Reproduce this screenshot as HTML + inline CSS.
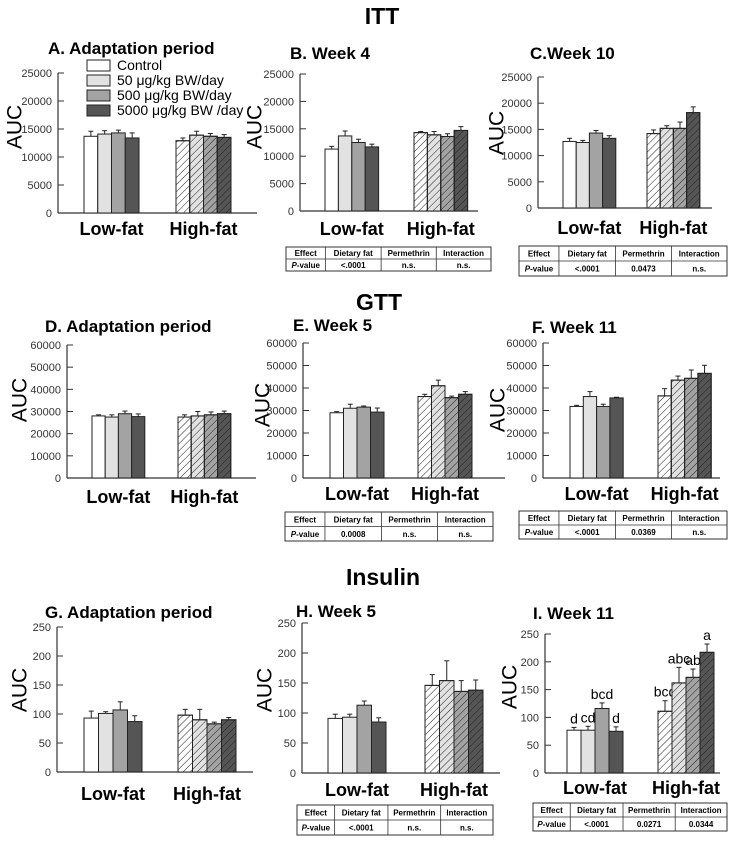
<!DOCTYPE html>
<html><head><meta charset="utf-8">
<style>
html,body{margin:0;padding:0;background:#fff;}
svg{display:block;font-family:"Liberation Sans",Arial,sans-serif;}
</style></head>
<body>
<svg id="fig" width="749" height="842" viewBox="0 0 749 842" xmlns="http://www.w3.org/2000/svg">
<defs>
<pattern id="hatch" patternUnits="userSpaceOnUse" width="5" height="5" patternTransform="rotate(45)">
<line x1="0" y1="0" x2="0" y2="5" stroke="#222" stroke-width="1"/>
</pattern>
</defs>
<text x="382" y="24" text-anchor="middle" font-size="23" font-weight="bold">ITT</text>
<text x="379" y="310" text-anchor="middle" font-size="23" font-weight="bold">GTT</text>
<text x="383" y="585" text-anchor="middle" font-size="23" font-weight="bold">Insulin</text>
<g id="legend">
<rect x="87" y="60" width="23" height="11" fill="#fff" stroke="#222"/>
<text x="117" y="70" font-size="14">Control</text>
<rect x="87" y="75" width="23" height="11" fill="#e2e2e2" stroke="#222"/>
<text x="117" y="85" font-size="14">50 μg/kg BW/day</text>
<rect x="87" y="90" width="23" height="11" fill="#a3a3a3" stroke="#222"/>
<text x="117" y="100" font-size="14">500 μg/kg BW/day</text>
<rect x="87" y="105" width="23" height="11" fill="#555" stroke="#222"/>
<text x="117" y="115" font-size="14">5000 μg/kg BW /day</text>
</g>
</svg>
<script>
const groups = ['Low-fat','High-fat'];
const aLow=[13700,14100,14300,13400], aHigh=[12900,13900,13700,13500];
const aLowErr=[900,600,500,900], aHighErr=[500,700,500,500];
const bLow=[11300,13700,12500,11700], bHigh=[14300,13900,13600,14700];
const bLowErr=[500,900,600,500], bHighErr=[200,600,500,700];
const cLow=[12700,12500,14300,13300], cHigh=[14200,15200,15200,18200];
const cLowErr=[600,400,500,500], cHighErr=[700,500,1200,1100];
const dLow=[28000,27500,29000,27700], dHigh=[27500,28000,28500,29000];
const dLowErr=[500,1000,1200,1200], dHighErr=[1000,2000,1300,1200];
const eLow=[29000,31000,31500,29300], eHigh=[36200,41000,35700,37200];
const eLowErr=[500,1800,500,1800], eHighErr=[1000,2500,700,1200];
const fLow=[31800,36200,31800,35600], fHigh=[36500,43500,44300,46500];
const fLowErr=[500,2200,1000,300], fHighErr=[3200,1800,3700,3600];
const gLow=[93,101,107,87], gHigh=[98,90,83,90];
const gLowErr=[12,3,14,10], gHighErr=[10,18,3,4];
const hLow=[91,93,113,85], hHigh=[146,154,136,138];
const hLowErr=[7,5,7,7], hHighErr=[18,33,18,17];
const iLow=[77,77,116,75], iHigh=[111,162,172,217];
const iLowErr=[5,7,10,8], iHighErr=[19,28,15,15];
const iLowLetters=['d','cd','bcd','d'], iHighLetters=['bcd','abc','ab','a'];
const yTicks25k=[0,5000,10000,15000,20000,25000];
const yTicks60k=[0,10000,20000,30000,40000,50000,60000];
const yTicks250=[0,50,100,150,200,250];
const tableHeader=['Effect','Dietary fat','Permethrin','Interaction'];
const bTable=['P-value','<.0001','n.s.','n.s.'];
const cTable=['P-value','<.0001','0.0473','n.s.'];
const eTable=['P-value','0.0008','n.s.','n.s.'];
const fTable=['P-value','<.0001','0.0369','n.s.'];
const hTable=['P-value','<.0001','n.s.','n.s.'];
const iTable=['P-value','<.0001','0.0271','0.0344'];

const fills=['#ffffff','#e2e2e2','#a3a3a3','#555555'];
const svg=document.getElementById('fig');
const NS='http://www.w3.org/2000/svg';
function mk(tag,attrs,parent){const e=document.createElementNS(NS,tag);for(const k in attrs)e.setAttribute(k,attrs[k]);(parent||svg).appendChild(e);return e;}

function panel(p){
  const g=mk('g',{});
  
  
  const max=p.ticks[p.ticks.length-1];
  const y=v=>p.bot-(v/max)*(p.bot-p.top);
  const t=mk('text',{x:p.tx,y:p.ty+6,'font-size':17,'font-weight':'bold'},g);t.textContent=p.title;
  
  
  const yl=mk('text',{x:p.ax0,y:p.ay0,'font-size':21,'text-anchor':'middle',transform:`rotate(-90 ${p.ax0} ${p.ay0})`,'dominant-baseline':'central'},g);yl.textContent='AUC';
  
  
  mk('line',{x1:p.ax,y1:p.top,x2:p.ax,y2:p.bot,stroke:'#333','stroke-width':1.2},g);
  const xa=mk('line',{x1:p.ax,y1:p.bot,x2:p.end,y2:p.bot,stroke:'#333','stroke-width':1.2},g);
  
  
  p.ticks.forEach(v=>{
    mk('line',{x1:p.ax,y1:y(v),x2:p.ax+6,y2:y(v),stroke:'#333','stroke-width':1},g);
    const tl=mk('text',{x:p.ax-6,y:y(v)+4,'font-size':11,'text-anchor':'end',fill:'#333'},g);tl.textContent=v;
    
    
  });
  [[p.low,p.lowErr,p.lf,false,p.lowL],[p.high,p.highErr,p.hf,true,p.highL]].forEach((s,gi)=>{
    const [vals,errs,x0,hat,letters]=s;
    vals.forEach((v,i)=>{
      const bx=x0+i*p.bw, by=y(v), eb=y(v+errs[i]), cx=bx+p.bw/2;
      mk('line',{x1:cx,y1:by,x2:cx,y2:eb,stroke:'#222','stroke-width':1},g);
      mk('line',{x1:cx-2.5,y1:eb,x2:cx+2.5,y2:eb,stroke:'#222','stroke-width':1},g);
      const r=mk('rect',{x:bx,y:by,width:p.bw,height:p.bot-by,fill:fills[i],stroke:'#222','stroke-width':1},g);
      
      
      if(hat){mk('rect',{x:bx,y:by,width:p.bw,height:p.bot-by,fill:'url(#hatch)',stroke:'#222','stroke-width':1},g);}
      if(letters){const lt=mk('text',{x:cx,y:eb-4,'font-size':14,'text-anchor':'middle'},g);lt.textContent=letters[i];
        
        }
    });
    const gl=mk('text',{x:x0+2*p.bw,y:p.ly+7,'font-size':18,'font-weight':'bold','text-anchor':'middle'},g);gl.textContent=groups[gi];
    
    
  });
  if(p.table){
    const [x1,x2,y1,y2]=p.tb, w=x2-x1, h=y2-y1, fr=[0,0.192,0.464,0.733,1];
    const tg=mk('g',{},g);
    
    
    mk('rect',{x:x1,y:y1,width:w,height:h,fill:'#fff',stroke:'#333','stroke-width':1},tg);
    mk('line',{x1:x1,y1:y1+h/2,x2:x2,y2:y1+h/2,stroke:'#333','stroke-width':0.8},tg);
    for(let k=1;k<4;k++)mk('line',{x1:x1+fr[k]*w,y1:y1,x2:x1+fr[k]*w,y2:y2,stroke:'#333','stroke-width':0.8},tg);
    [tableHeader,p.table].forEach((row,ri)=>row.forEach((c,k)=>{
      const cx=x1+(fr[k]+fr[k+1])/2*w, cy=y1+h/4+ri*h/2+3;
      const te=mk('text',{x:cx,y:cy,'font-size':8,'font-weight':'bold','text-anchor':'middle'},tg);
      if(ri===1&&k===0){const a=mk('tspan',{'font-style':'italic'},te);a.textContent='P';const b=mk('tspan',{},te);b.textContent='-value';}
      else te.textContent=c;
    }));
  }
}
panel({id:'a',title:'A. Adaptation period',tx:48,ty:48,ax0:15,ay0:127,ax:58,top:73,bot:213,end:257,ticks:yTicks25k,lf:84,hf:176,bw:13.75,ly:228,low:aLow,high:aHigh,lowErr:aLowErr,highErr:aHighErr});
panel({id:'b',title:'B. Week 4',tx:290,ty:53,ax0:255,ay0:127,ax:300,top:74,bot:211,end:478,ticks:yTicks25k,lf:325,hf:414,bw:13.4,ly:228,low:bLow,high:bHigh,lowErr:bLowErr,highErr:bHighErr,table:bTable,tb:[286,491,247,271]});
panel({id:'c',title:'C.Week 10',tx:530,ty:53,ax0:497,ay0:133,ax:538,top:77,bot:208,end:712,ticks:yTicks25k,lf:563,hf:647,bw:13.2,ly:227,low:cLow,high:cHigh,lowErr:cLowErr,highErr:cHighErr,table:cTable,tb:[519,727,246,276]});
panel({id:'d',title:'D. Adaptation period',tx:45,ty:326,ax0:20,ay0:400,ax:67,top:345,bot:478,end:256,ticks:yTicks60k,lf:92,hf:178,bw:13.2,ly:496,low:dLow,high:dHigh,lowErr:dLowErr,highErr:dHighErr});
panel({id:'e',title:'E. Week 5',tx:293,ty:325,ax0:263,ay0:405,ax:303,top:343,bot:478,end:505,ticks:yTicks60k,lf:330,hf:418,bw:13.5,ly:493,low:eLow,high:eHigh,lowErr:eLowErr,highErr:eHighErr,table:eTable,tb:[285,493,512,541]});
panel({id:'f',title:'F. Week 11',tx:532,ty:327,ax0:498,ay0:410,ax:543,top:343,bot:478,end:720,ticks:yTicks60k,lf:570,hf:658,bw:13.3,ly:493,low:fLow,high:fHigh,lowErr:fLowErr,highErr:fHighErr,table:fTable,tb:[519,727,511,539]});
panel({id:'g',title:'G. Adaptation period',tx:45,ty:612,ax0:20,ay0:690,ax:57,top:627,bot:772,end:253,ticks:yTicks250,lf:84,hf:178,bw:14.5,ly:793,low:gLow,high:gHigh,lowErr:gLowErr,highErr:gHighErr});
panel({id:'h',title:'H. Week 5',tx:296,ty:611,ax0:265,ay0:690,ax:302,top:623,bot:773,end:500,ticks:yTicks250,lf:328,hf:425,bw:14.5,ly:789,low:hLow,high:hHigh,lowErr:hLowErr,highErr:hHighErr,table:hTable,tb:[297,493,805,835]});
panel({id:'i',title:'I. Week 11',tx:533,ty:613,ax0:510,ay0:687,ax:545,top:634,bot:773,end:720,ticks:yTicks250,lf:567,hf:658,bw:14,ly:787,low:iLow,high:iHigh,lowErr:iLowErr,highErr:iHighErr,lowL:iLowLetters,highL:iHighLetters,table:iTable,tb:[533,727,803,831]});
</script>
</body></html>
